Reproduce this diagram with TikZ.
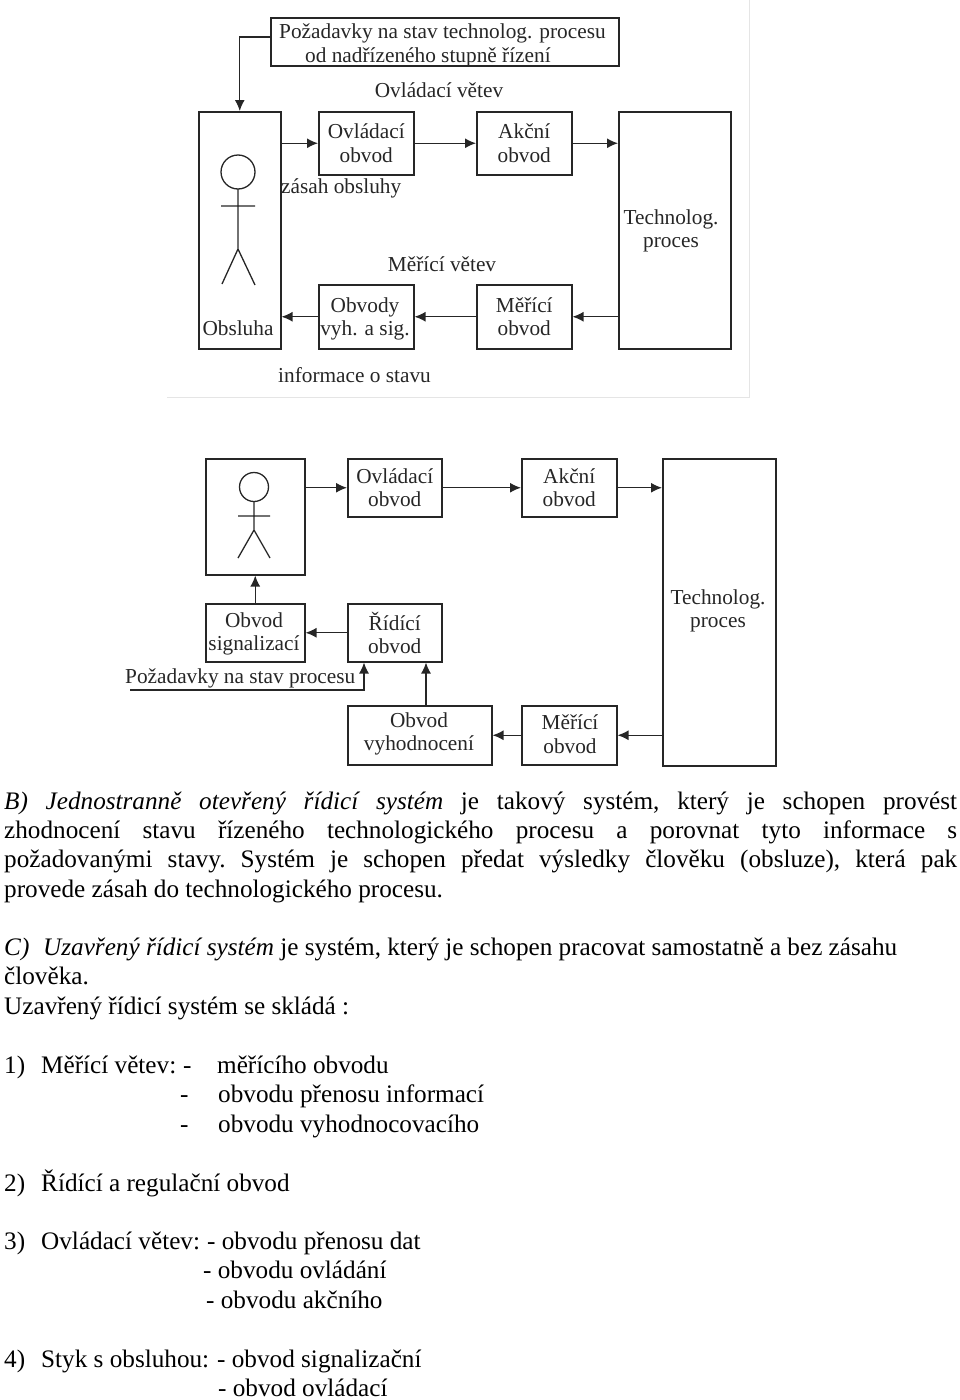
\documentclass[tikz,border=0pt]{standalone}
\usepackage{fontspec}
\setmainfont{Liberation Serif}
\usetikzlibrary{arrows.meta}
\newcommand{\jl}[1]{\hbox to 953pt{#1}}
\newcommand{\gp}{\hfil\ }
\tikzset{
 x=1pt,y=-1pt,
 box/.style={draw=black!85,line width=1.5pt,inner sep=0pt,anchor=north west,align=center,font=\fontsize{21.3pt}{23.5pt}\selectfont,text=black!85},
 lbl/.style={inner sep=0pt,align=center,font=\fontsize{21.3pt}{23.5pt}\selectfont,text=black!85},
 arr/.style={draw=black!85,line width=1.4pt,-{Latex[length=11pt,width=10pt]}},
 lin/.style={draw=black!85,line width=1.3pt},
 body/.style={inner sep=0pt,anchor=base west,font=\fontsize{25.2pt}{29.5pt}\selectfont},
 fram/.style={draw=black!10,line width=1pt}
}
\begin{document}
\begin{tikzpicture}
\useasboundingbox (0,0) rectangle (960,1400);
% frame
\coordinate (fa) at (167,397);\coordinate (fb) at (749,397);\coordinate (fc) at (749,0);
\draw[fram] (fa) -- (fb) -- (fc);
% top diagram
\node[box,minimum width=348pt,minimum height=48pt] (poz) at (270,17) {};
\node[lbl,anchor=base west] (pozA) at (279,38) {Požadavky na stav technolog. procesu};
\node[lbl,anchor=base west] (pozB) at (305,62) {od nadřízeného stupně řízení};
\node[lbl,anchor=base] (ov) at (439,97) {Ovládací větev};
\node[box,minimum width=82pt,minimum height=237pt] (obs) at (198,111) {};
\node[lbl] (obsT) at (238,328) {Obsluha};
\node[box,minimum width=95pt,minimum height=63pt] (ovl) at (318,111) {Ovládací\\obvod};
\node[box,minimum width=95pt,minimum height=63pt] (akc) at (476,111) {Akční\\obvod};
\node[box,minimum width=112pt,minimum height=237pt] (tech) at (618,111) {};
\node[lbl] (techT) at (671,231) {Technolog.\\proces};
\node[lbl,anchor=base west] (zas) at (281,193) {zásah obsluhy};
\node[lbl,anchor=base] (mv) at (442,271) {Měřící větev};
\node[box,minimum width=95pt,minimum height=64pt] (vyh) at (318,284) {};
\node[lbl] (vyhT) at (365,319) {Obvody\\vyh. a sig.};
\node[box,minimum width=95pt,minimum height=64pt] (mer) at (476,284) {Měřící\\obvod};
\node[lbl,anchor=base west] (inf) at (278,382) {informace o stavu};
\draw[lin] (238,172) circle (17);
\draw[lin] (238,189) -- (238,249) (221,206) -- (255,206) (222,284) -- (238,249) -- (255,285);
\draw[arr] (poz.west |- 0,37) -| (obs.north);
\draw[arr] (obs.east |- ovl.west) -- (ovl.west);
\draw[arr] (ovl.east) -- (akc.west);
\draw[arr] (akc.east) -- (akc.east -| tech.west);
\draw[arr] (mer.east -| tech.west) -- (mer.east);
\draw[arr] (mer.west) -- (vyh.east);
\draw[arr] (vyh.west) -- (vyh.west -| obs.east);
% second diagram
\node[box,minimum width=99pt,minimum height=116pt] (per) at (205,458) {};
\node[box,minimum width=94pt,minimum height=58pt] (ovl2) at (347,458) {Ovládací\\obvod};
\node[box,minimum width=95pt,minimum height=58pt] (akc2) at (521,458) {Akční\\obvod};
\node[box,minimum width=113pt,minimum height=307pt] (tech2) at (662,458) {};
\node[lbl] (tech2T) at (718,611) {Technolog.\\proces};
\node[box,minimum width=99pt,minimum height=58pt] (sig) at (205,603) {};
\node[lbl] (sigT) at (254,634) {Obvod\\signalizací};
\node[box,minimum width=94pt,minimum height=58pt] (rid) at (347,603) {Řídící\\obvod};
\node[box,minimum width=144pt,minimum height=59pt] (vyd) at (347,705) {};
\node[lbl] (vydT) at (419,734) {Obvod\\vyhodnocení};
\node[box,minimum width=95pt,minimum height=59pt] (mer2) at (521,705) {};
\node[lbl] (mer2T) at (570,734) {Měřící\\obvod};
\node[lbl,anchor=base west] (poz2) at (125,683) {Požadavky na stav procesu};
\coordinate (pf) at (130,690);
\draw[lin] (254,487) circle (14.5);
\draw[lin] (254,501.5) -- (254,530) (238,516) -- (270,516) (238,558) -- (254,530) -- (270,558);
\draw[arr] (per.east |- ovl2.west) -- (ovl2.west);
\draw[arr] (ovl2.east) -- (akc2.west);
\draw[arr] (akc2.east) -- (akc2.east -| tech2.west);
\draw[arr] (mer2.east -| tech2.west) -- (mer2.east);
\draw[arr] (mer2.west) -- (vyd.east);
\draw[arr] (sig.north) -- (per.south);
\draw[arr] (rid.west) -- (sig.east);
\draw[arr] (pf) -| (rid.south -| 364,0);
\draw[arr] (vyd.north -| 426,0) -- (rid.south -| 426,0);
% body text
\node[body] (t1) at (4,809) {\jl{\textit{B)\gp Jednostranně\gp otevřený\gp řídicí\gp systém}\gp je\gp takový\gp systém,\gp který\gp je\gp schopen\gp provést}};
\node[body] (t2) at (4,838) {\jl{zhodnocení\gp stavu\gp řízeného\gp technologického\gp procesu\gp a\gp porovnat\gp tyto\gp informace\gp s}};
\node[body] (t3) at (4,867) {\jl{požadovanými\gp stavy.\gp Systém\gp je\gp schopen\gp předat\gp výsledky\gp člověku\gp (obsluze),\gp která\gp pak}};
\node[body] (t4) at (4,897) {provede zásah do technologického procesu.};
\node[body] (t5) at (4,955) {\textit{C)}};
\node[body] (t5b) at (43,955) {\hbox to 854pt{\textit{Uzavřený řídicí systém} je systém, který je schopen pracovat samostatně a bez zásahu}};
\node[body] (t6) at (4,984) {člověka.};
\node[body] (t7) at (4,1014) {Uzavřený řídicí systém se skládá :};
\node[body] (t8) at (4,1073) {1)};
\node[body] (t8b) at (41,1073) {Měřící větev:};
\node[body] (t8d) at (183,1073) {-};
\node[body] (t8c) at (217,1073) {měřícího obvodu};
\node[body] (t9) at (180,1102) {-};
\node[body] (t9b) at (218,1102) {obvodu přenosu informací};
\node[body] (t10) at (180,1132) {-};
\node[body] (t10b) at (218,1132) {obvodu vyhodnocovacího};
\node[body] (t11) at (4,1191) {2)};
\node[body] (t11b) at (41,1191) {Řídící a regulační obvod};
\node[body] (t12) at (4,1249) {3)};
\node[body] (t12b) at (41,1249) {Ovládací větev:};
\node[body] (t12c) at (207,1249) {- obvodu přenosu dat};
\node[body] (t13) at (203,1278) {- obvodu ovládání};
\node[body] (t14) at (206,1308) {- obvodu akčního};
\node[body] (t15) at (4,1367) {4)};
\node[body] (t15b) at (41,1367) {Styk s obsluhou:};
\node[body] (t15c) at (217,1367) {- obvod signalizační};
\node[body] (t16) at (218,1396) {- obvod ovládací};
\end{tikzpicture}
\end{document}
